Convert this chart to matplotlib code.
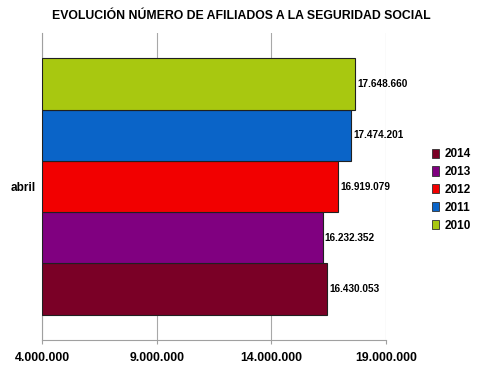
import matplotlib.pyplot as plt
import numpy as np

plt.rcParams['font.family'] = ['Liberation Sans', 'DejaVu Sans']

# datos
category = 'abril'
years = ['2014', '2013', '2012', '2011', '2010']
afiliados = [16430053, 16232352, 16919079, 17474201, 17648660]
colores = ['#7a0026', '#800080', '#f20000', '#0a64c8', '#a8c810']
xticks = [4000000, 9000000, 14000000, 19000000]
xlabels = ['4.000.000', '9.000.000', '14.000.000', '19.000.000']


def fmt(v):
    return '{:,}'.format(v).replace(',', '.')


fig = plt.figure(figsize=(4.86, 3.8), dpi=100)
ax = fig.add_axes([42 / 486, 1 - 340 / 380, (386 - 42) / 486, (340 - 33) / 380])

h = 0.1668
n = len(years)
for i, (yr, v, c) in enumerate(zip(years, afiliados, colores)):
    y = (i - (n - 1) / 2) * h
    ax.barh(y, v - xticks[0], left=xticks[0], height=h, color=c,
            edgecolor='#202020', linewidth=0.8, label=yr, zorder=3)
    ax.annotate(fmt(v), (v, y), xytext=(1.5, 0), textcoords='offset points',
                va='center', ha='left', fontsize=7.2, fontweight='bold', zorder=4)

ax.set_xlim(xticks[0], xticks[-1])
ax.set_ylim(-0.5, 0.5)
ax.set_xticks(xticks)
ax.set_xticklabels(xlabels, fontsize=8.8, fontweight='bold')
ax.set_yticks([0])
ax.set_yticklabels([category], fontsize=8.5, fontweight='bold')
ax.tick_params(axis='y', length=0, pad=4.5)
ax.tick_params(axis='x', length=3, color='#a0a0a0', pad=5.5)
ax.grid(axis='x', color='#a8a8a8', linewidth=0.8, zorder=0)
for s in ['top', 'right']:
    ax.spines[s].set_visible(False)
for s in ['left', 'bottom']:
    ax.spines[s].set_color('#a0a0a0')
    ax.spines[s].set_linewidth(0.8)

handles = [plt.Rectangle((0, 0), 1, 1, facecolor=c, edgecolor='#303030', linewidth=0.6)
           for c in colores]
fig.legend(handles, years, loc='center left', bbox_to_anchor=(421 / 486, 1 - 190 / 380),
           frameon=False, prop={'size': 8.5, 'weight': 'bold'}, handlelength=0.6,
           handleheight=0.8, handletextpad=0.5, labelspacing=0.5)

fig.text(0.497, 1 - 16 / 380, 'EVOLUCIÓN NÚMERO DE AFILIADOS A LA SEGURIDAD SOCIAL',
         ha='center', va='center', fontsize=8.85, fontweight='bold')

fig.savefig('out.png', dpi=100)
